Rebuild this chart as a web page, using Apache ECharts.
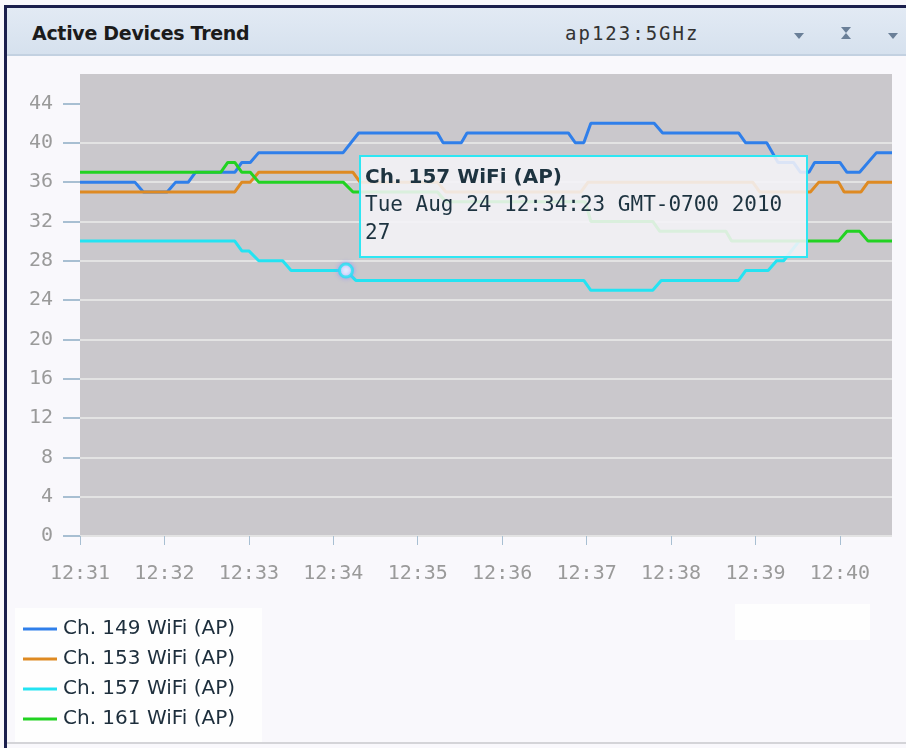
<!DOCTYPE html>
<html>
<head>
<meta charset="utf-8">
<title>Active Devices Trend</title>
<script src="https://cdn.jsdelivr.net/npm/echarts@6.0.0/dist/echarts.min.js"></script>
<style>
  html, body { margin: 0; padding: 0; width: 906px; height: 748px; overflow: hidden; background: #ffffff; }
  #panel { position: absolute; left: 0; top: 0; width: 906px; height: 748px; background: #f9f8fc; }
  #frameLeft { position: absolute; left: 4px; top: 5px; width: 3px; height: 743px; background: #1b1f4d; }
  #frameTop { position: absolute; left: 4px; top: 5px; width: 902px; height: 3px; background: #1b1f4d; }
  #header { position: absolute; left: 7px; top: 8px; width: 899px; height: 46px;
            background: linear-gradient(#e2eaf4, #d6e1ee); border-bottom: 2px solid #c3d1e1; }
  #title { position: absolute; left: 25px; top: 14px; font: bold 19px "DejaVu Sans", sans-serif; color: #1b1b1b; letter-spacing: -0.3px; }
  #source { position: absolute; left: 558px; top: 14px; font: 19px "DejaVu Sans Mono", monospace; color: #333; letter-spacing: 2px; }
  .tri { position: absolute; width: 0; height: 0; border-left: 5px solid transparent; border-right: 5px solid transparent; border-top: 6px solid #6a7f98; }
  .tri.up { border-top: none; border-bottom: 6px solid #6a7f98; }
  #legendBox { position: absolute; left: 15px; top: 608px; width: 247px; height: 134px; background: #fefefe; }
  #legendBox2 { position: absolute; left: 735px; top: 604px; width: 135px; height: 36px; background: #fefefe; }
  #bottomLine { position: absolute; left: 7px; top: 742px; width: 899px; height: 2px; background: #d4d4d8; }
  #chart { position: absolute; left: 0; top: 0; width: 906px; height: 748px; }
</style>
</head>
<body>
<div id="panel">
  <div id="legendBox"></div>
  <div id="legendBox2"></div>
  <div id="header">
    <div id="title">Active Devices Trend</div>
    <div id="source">ap123:5GHz</div>
    <div class="tri" style="left:787px;top:25px;"></div>
    <div class="tri" style="left:834px;top:19px;"></div>
    <div class="tri up" style="left:834px;top:25px;"></div>
    <div class="tri" style="left:881px;top:25px;"></div>
  </div>
  <div id="frameLeft"></div>
  <div id="frameTop"></div>
  <div id="bottomLine"></div>
</div>
<div id="chart"></div>
<script>
// Axis ticks
const xTickLabels = ['12:31', '12:32', '12:33', '12:34', '12:35', '12:36', '12:37', '12:38', '12:39', '12:40'];
const yTicks = [0, 4, 8, 12, 16, 20, 24, 28, 32, 36, 40, 44];
const axisStart = '12:31:00';
const axisEnd = '12:40:37';

// Series names and colours
const seriesNames = ['Ch. 149 WiFi (AP)', 'Ch. 153 WiFi (AP)', 'Ch. 157 WiFi (AP)', 'Ch. 161 WiFi (AP)'];
const seriesColors = ['#2f7fea', '#de8a22', '#24e3f2', '#22d222'];

// Ch. 149 samples
const ch149Times = ['12:31:00', '12:31:39', '12:31:45', '12:32:02', '12:32:08', '12:32:17', '12:32:22', '12:32:50',
  '12:32:55', '12:33:01', '12:33:07', '12:34:07', '12:34:18', '12:35:14', '12:35:18', '12:35:31', '12:35:35',
  '12:36:47', '12:36:52', '12:36:58', '12:37:03', '12:37:48', '12:37:54', '12:38:48', '12:38:53', '12:39:08',
  '12:39:16', '12:39:27', '12:39:32', '12:39:38', '12:39:42', '12:40:00', '12:40:05', '12:40:14', '12:40:26', '12:40:37'];
const ch149Values = [36, 36, 35, 35, 36, 36, 37, 37,
  38, 38, 39, 39, 41, 41, 40, 40, 41,
  41, 40, 40, 42, 42, 41, 41, 40, 40,
  38, 38, 37, 37, 38, 38, 37, 37, 39, 39];

// Ch. 153 samples
const ch153Times = ['12:31:00', '12:32:50', '12:32:55', '12:33:01', '12:33:07', '12:34:14', '12:34:19', '12:35:14',
  '12:35:20', '12:36:56', '12:37:01', '12:38:58', '12:39:03', '12:39:39', '12:39:45', '12:39:59', '12:40:03',
  '12:40:15', '12:40:20', '12:40:37'];
const ch153Values = [35, 35, 36, 36, 37, 37, 36, 36,
  35, 35, 36, 36, 35, 35, 36, 36, 35,
  35, 36, 36];

// Ch. 157 samples
const ch157Times = ['12:31:00', '12:32:50', '12:32:55', '12:33:00', '12:33:07', '12:33:24', '12:33:30', '12:34:09',
  '12:34:16', '12:36:58', '12:37:03', '12:37:47', '12:37:53', '12:38:48', '12:38:53', '12:39:09', '12:39:15',
  '12:39:20', '12:39:31'];
const ch157Values = [30, 30, 29, 29, 28, 28, 27, 27,
  26, 26, 25, 25, 26, 26, 27, 27, 28,
  28, 30];

// Ch. 161 samples
const ch161Times = ['12:31:00', '12:32:40', '12:32:45', '12:32:50', '12:32:55', '12:33:01', '12:33:07', '12:34:07',
  '12:34:14', '12:35:14', '12:35:20', '12:36:59', '12:37:03', '12:37:47', '12:37:52', '12:38:39', '12:38:43',
  '12:39:59', '12:40:05', '12:40:14', '12:40:20', '12:40:37'];
const ch161Values = [37, 37, 38, 38, 37, 37, 36, 36,
  35, 35, 34, 34, 32, 32, 31, 31, 30,
  30, 31, 31, 30, 30];

// Sample under the pointer and its tooltip timestamp
const focusSeries = 2;
const focusIndex = 7;
const focusStamp = 'Tue Aug 24 12:34:23 GMT-0700 2010';

// Minutes elapsed since the first axis tick
function toMinutes(clock) {
  const p = clock.split(':').map(Number);
  const s = axisStart.split(':').map(Number);
  return (p[0] * 60 + p[1] + (p[2] || 0) / 60) - (s[0] * 60 + s[1] + s[2] / 60);
}
function pairs(times, values) {
  return times.map((t, i) => [toMinutes(t), values[i]]);
}

const allTimes = [ch149Times, ch153Times, ch157Times, ch161Times];
const allValues = [ch149Values, ch153Values, ch157Values, ch161Values];
const xTickValues = xTickLabels.map(l => toMinutes(l + ':00'));

const lineSeries = seriesNames.map((name, i) => ({
  name: name,
  type: 'line',
  data: pairs(allTimes[i], allValues[i]),
  showSymbol: false,
  silent: true,
  lineStyle: { color: seriesColors[i], width: 3 },
  itemStyle: { color: seriesColors[i] },
  z: 2
}));

const focusPoint = {
  name: 'focus',
  type: 'scatter',
  data: [[toMinutes(allTimes[focusSeries][focusIndex]), allValues[focusSeries][focusIndex]]],
  symbol: 'circle',
  symbolSize: 13,
  itemStyle: {
    color: '#ffffff',
    borderColor: seriesColors[focusSeries],
    borderWidth: 3,
    shadowColor: 'rgba(150,150,255,0.9)',
    shadowBlur: 4
  },
  z: 5
};

const chart = echarts.init(document.getElementById('chart'), null, { renderer: 'canvas' });

chart.setOption({
  animation: false,
  backgroundColor: 'transparent',
  grid: {
    left: 80, right: 14, top: 74, bottom: 212,
    show: true, backgroundColor: '#cac8cc', borderWidth: 0
  },
  xAxis: {
    type: 'value',
    min: 0,
    max: toMinutes(axisEnd),
    interval: 1,
    axisLine: { show: false },
    splitLine: { show: false },
    axisTick: { show: true, length: 9, customValues: xTickValues, lineStyle: { color: '#a8bfd2', width: 1 } },
    axisLabel: {
      customValues: xTickValues,
      margin: 28,
      color: '#9a9a9a',
      fontFamily: 'DejaVu Sans Mono',
      fontSize: 20,
      formatter: v => xTickLabels[xTickValues.findIndex(t => Math.abs(t - v) < 1e-6)] || ''
    }
  },
  yAxis: {
    type: 'value',
    min: 0,
    max: 47,
    interval: 4,
    axisLine: { show: false },
    axisTick: { show: true, length: 17, customValues: yTicks, lineStyle: { color: '#a8bfd2', width: 2 } },
    splitLine: { show: true, showMaxLine: false, lineStyle: { color: '#e3e3e3', width: 2 } },
    axisLabel: {
      customValues: yTicks,
      margin: 27,
      color: '#9a9a9a',
      fontFamily: 'DejaVu Sans Mono',
      fontSize: 20
    }
  },
  legend: {
    data: seriesNames,
    orient: 'vertical',
    left: 23,
    top: 619,
    padding: 0,
    icon: 'rect',
    itemWidth: 34,
    itemHeight: 3,
    itemGap: 10,
    selectedMode: false,
    textStyle: { color: '#1d2e3c', fontFamily: 'DejaVu Sans', fontSize: 20, lineHeight: 20, padding: [0, 0, 0, 1] }
  },
  tooltip: {
    trigger: 'item',
    triggerOn: 'none',
    alwaysShowContent: true,
    showDelay: 0,
    transitionDuration: 0,
    position: [359, 155],
    padding: [5, 4, 4, 4],
    backgroundColor: 'rgba(244,243,247,0.88)',
    borderColor: '#2ee6f3',
    borderWidth: 2,
    borderRadius: 0,
    extraCssText: 'box-shadow:none;width:449px;height:103px;box-sizing:border-box;',
    formatter: () =>
      '<div style="font:bold 20px \'DejaVu Sans\';color:#1d3340;line-height:28px;">' + seriesNames[focusSeries] + '</div>' +
      '<div style="font:21px \'DejaVu Sans Mono\';color:#1d3340;line-height:28px;white-space:nowrap;">' + focusStamp + '</div>' +
      '<div style="font:21px \'DejaVu Sans Mono\';color:#1d3340;line-height:28px;">' + allValues[focusSeries][focusIndex] + '</div>'
  },
  series: lineSeries.concat([focusPoint])
});

chart.dispatchAction({ type: 'showTip', seriesIndex: seriesNames.length, dataIndex: 0 });
</script>
</body>
</html>
